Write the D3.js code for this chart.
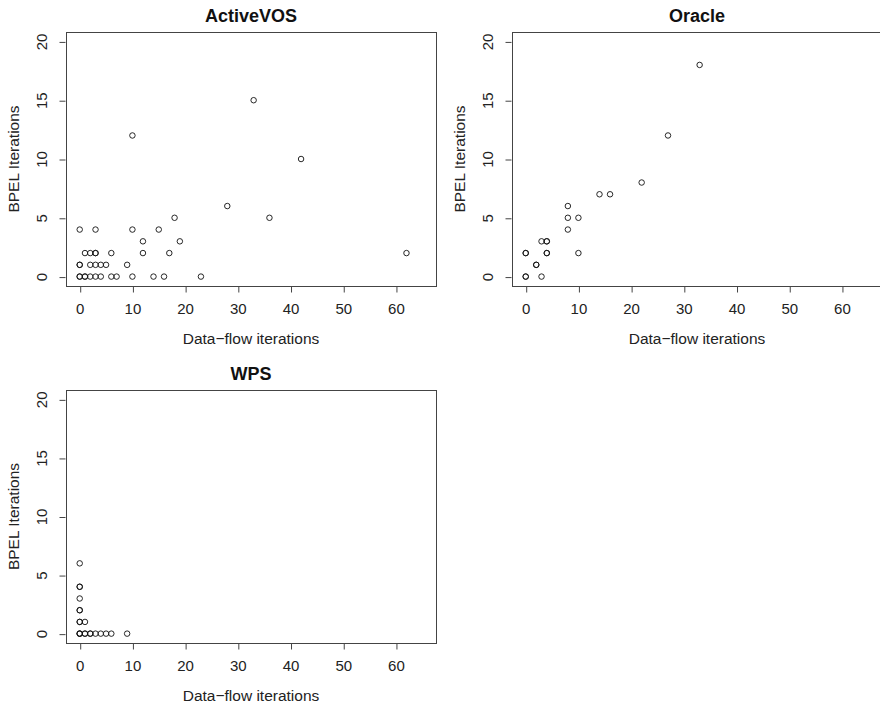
<!DOCTYPE html>
<html>
<head>
<meta charset="utf-8">
<script src="https://cdn.jsdelivr.net/npm/d3@7"></script>
<style>
  body { margin: 0; background: #fff; }
  svg { display: block; font-family: "Liberation Sans", Arial, sans-serif; }
  .tick line { stroke: #444; }
  .tick text { font-size: 15px; fill: #222; }
</style>
</head>
<body>
<div id="chart"></div>
<script>
// data (repeated pairs = overplotted points)
var activeX = [0,0,1,1,2,3,4,6,7,10,14,16,23, 0,0,2,3,4,5,9, 1,2,3,3,6,12,17,62, 12,19, 0,3,10,15, 18,36, 28, 42, 10, 33];
var activeY = [0,0,0,0,0,0,0,0,0,0,0,0,0,     1,1,1,1,1,1,1, 2,2,2,2,2,2,2,2,    3,3,   4,4,4,4,    5,5,   6,  10, 12, 15];

var oracleX = [0,0,3, 2,2, 0,0,4,4,10, 3,4,4, 8, 8,10, 8, 14,16, 22, 27, 33];
var oracleY = [0,0,0, 1,1, 2,2,2,2,2,  3,3,3, 4, 5,5,  6, 7,7,   8,  12, 18];

var wpsX = [0,0,0,1,1,2,2,3,4,5,6,9, 0,0,1, 0,0, 0, 0,0, 0];
var wpsY = [0,0,0,0,0,0,0,0,0,0,0,0, 1,1,1, 2,2, 3, 4,4, 6];

var xTicks = [0, 10, 20, 30, 40, 50, 60];
var yTicks = [0, 5, 10, 15, 20];
var xLim = [0, 65], yLim = [0, 20];

var xLabel = "Data\u2212flow iterations";
var yLabel = "BPEL Iterations";

var panels = [
    { title: "ActiveVOS", xs: activeX, ys: activeY, left: 66, right: 436, top: 32, bottom: 286 },
    { title: "Oracle", xs: oracleX, ys: oracleY, left: 512, right: 882, top: 32, bottom: 286 },
    { title: "WPS", xs: wpsX, ys: wpsY, left: 66, right: 436, top: 390, bottom: 643 }
];

var svg = d3.select("#chart").append("svg")
    .attr("width", 880)
    .attr("height", 704);

function pad(lim) {
    // R style 4% extension of the axis range
    var d = (lim[1] - lim[0]) * 0.04;
    return [lim[0] - d, lim[1] + d];
}

panels.forEach(function (p) {
    var x = d3.scaleLinear().domain(pad(xLim)).range([p.left, p.right]);
    var y = d3.scaleLinear().domain(pad(yLim)).range([p.bottom, p.top]);

    var g = svg.append("g");

    // x axis
    var gx = g.append("g")
        .attr("transform", "translate(0," + (p.bottom + 0.5) + ")")
        .call(d3.axisBottom(x).tickValues(xTicks).tickSize(6).tickSizeOuter(0).tickPadding(10.5));
    gx.select(".domain").remove();
    gx.selectAll(".tick line").attr("transform", "translate(0.5,0)");

    // y axis, labels parallel to the axis
    var gy = g.append("g")
        .attr("transform", "translate(" + (p.left - 0.5) + ",0)")
        .call(d3.axisLeft(y).tickValues(yTicks).tickSize(6).tickSizeOuter(0));
    gy.select(".domain").remove();
    gy.selectAll(".tick line").attr("transform", "translate(0,0.5)");
    gy.selectAll(".tick text")
        .attr("transform", "rotate(-90)")
        .attr("x", 0)
        .attr("y", -19)
        .attr("dy", null)
        .style("text-anchor", "middle");

    // box
    g.append("rect")
        .attr("x", p.left + 0.5)
        .attr("y", p.top + 0.5)
        .attr("width", p.right - p.left)
        .attr("height", p.bottom - p.top)
        .attr("fill", "none")
        .attr("stroke", "#444")
        .attr("stroke-width", 1);

    // points
    g.append("g")
        .selectAll("circle")
        .data(p.xs.map(function (v, i) { return [v, p.ys[i]]; }))
        .enter()
        .append("circle")
        .attr("cx", function (d) { return x(d[0]); })
        .attr("cy", function (d) { return y(d[1]); })
        .attr("r", 2.75)
        .attr("fill", "none")
        .attr("stroke", "#111")
        .attr("stroke-width", 0.9);

    // title
    g.append("text")
        .attr("x", (p.left + p.right) / 2)
        .attr("y", p.top - 10.5)
        .style("text-anchor", "middle")
        .style("font-weight", "bold")
        .style("font-size", "18px")
        .attr("fill", "#111")
        .text(p.title);

    // axis titles
    g.append("text")
        .attr("x", (p.left + p.right) / 2)
        .attr("y", p.bottom + 58)
        .style("text-anchor", "middle")
        .style("font-size", "15.5px")
        .attr("fill", "#222")
        .text(xLabel);

    g.append("text")
        .attr("transform", "translate(" + (p.left - 47.5) + "," + ((p.top + p.bottom) / 2) + ") rotate(-90)")
        .style("text-anchor", "middle")
        .style("font-size", "15.5px")
        .attr("fill", "#222")
        .text(yLabel);
});
</script>
</body>
</html>
